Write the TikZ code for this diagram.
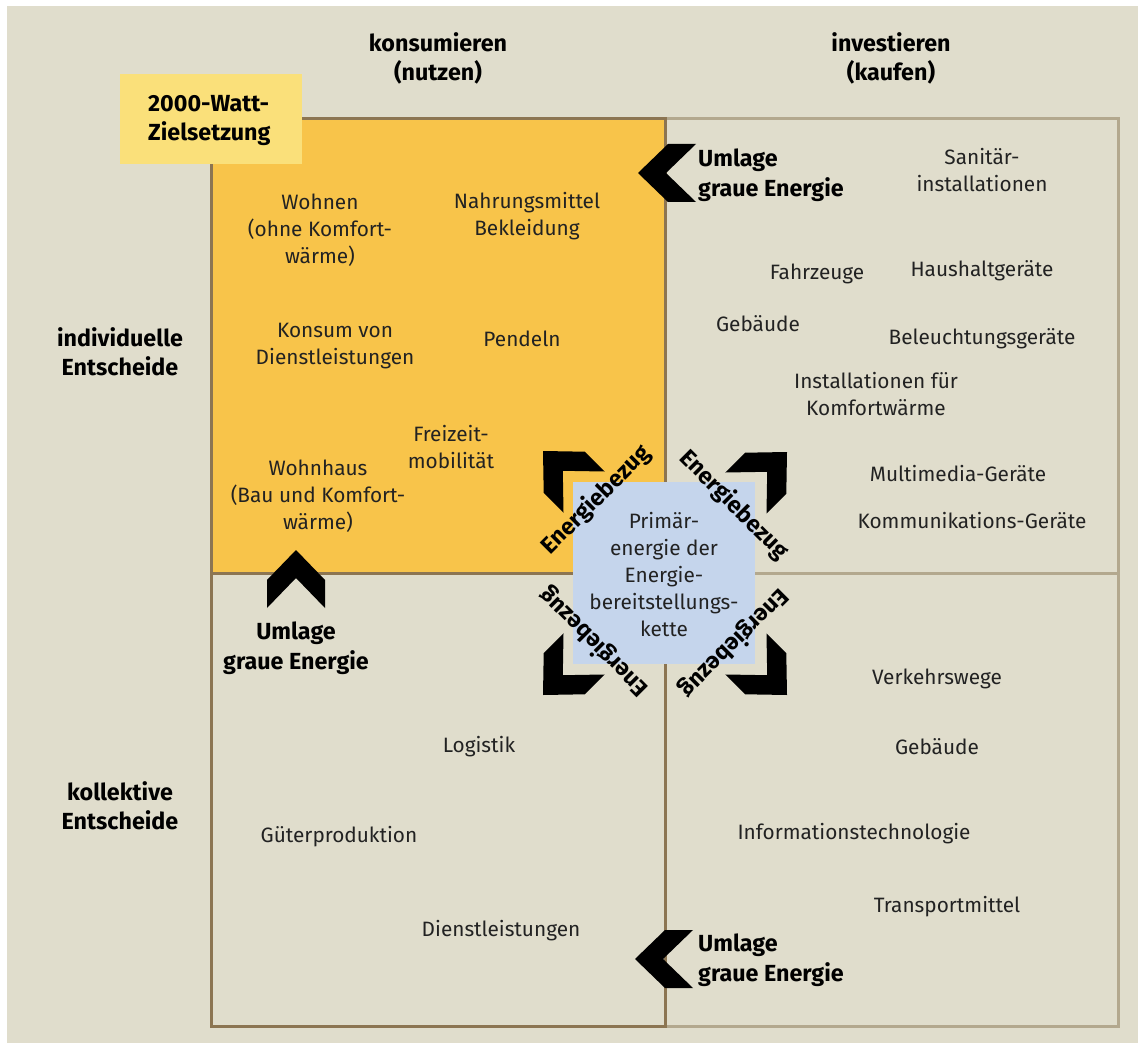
\documentclass[tikz,border=0pt]{standalone}
\usepackage{fontspec}
\setmainfont{Fira Sans}
\begin{document}
\definecolor{bgbeige}{HTML}{E0DDCC}
\definecolor{quadorange}{HTML}{F8C44A}
\definecolor{goalyellow}{HTML}{FAE07A}
\definecolor{sourceblue}{HTML}{C5D5EC}
\definecolor{darkline}{HTML}{8C7552}
\definecolor{lightline}{HTML}{B3A88E}
\definecolor{txt}{HTML}{222222}
\begin{tikzpicture}[x=1pt,y=-1pt,
  lbl/.style={align=center,font=\fontsize{20.8}{27}\selectfont,text=txt,inner sep=0pt},
  head/.style={align=center,font=\fontsize{23.3}{29}\selectfont\bfseries,text=black,inner sep=0pt},
  flow/.style={font=\fontsize{23.3}{29.5}\selectfont\bfseries,text=black,inner sep=0pt},
  chev/.pic={\fill[black] (0,0) -- (29,30) -- (29,58) -- (0,28) -- (-29,58) -- (-29,30) -- cycle;}]
  % canvas
  \useasboundingbox (0,0) rectangle (1138,1043);
  \fill[white] (0,0) rectangle (1138,1043);
  \fill[bgbeige] (7,6) rectangle (1138,1043);
  % quadrants
  \fill[quadorange] (211,119) rectangle (665,573);
  \draw[lightline,line width=3pt] (665,119) rectangle (1118,1026);
  \draw[lightline,line width=3pt] (665,573) -- (1118,573);
  \draw[darkline,line width=3pt] (211,119) rectangle (665,1026);
  \draw[darkline,line width=3pt] (211,573) -- (665,573);
  % goal label
  \fill[goalyellow] (120,74) rectangle (302,164);
  \node[head,align=left,anchor=west] (goal) at (148,121) {2000-Watt-\\Zielsetzung};
  % column and row headings
  \node[head] (konsum) at (438,58) {konsumieren\\(nutzen)};
  \node[head] (invest) at (891,58) {investieren\\(kaufen)};
  \node[head] (indiv) at (120,352) {individuelle\\Entscheide};
  \node[head] (kollekt) at (120,806) {kollektive\\Entscheide};
  % individual consumption
  \node[lbl] (wohnen) at (320,230) {Wohnen\\(ohne Komfort-\\wärme)};
  \node[lbl] (nahrung) at (527,216) {Nahrungsmittel\\Bekleidung};
  \node[lbl] (dienst1) at (335,346) {Konsum von\\Dienstleistungen};
  \node[lbl] (pendeln) at (522,339) {Pendeln};
  \node[lbl] (freizeit) at (451,447) {Freizeit-\\mobilität};
  \node[lbl] (wohnhaus) at (318,496) {Wohnhaus\\(Bau und Komfort-\\wärme)};
  % individual investment
  \node[lbl] (sanitaer) at (982,170) {Sanitär-\\installationen};
  \node[lbl] (fahrzeuge) at (817,274) {Fahrzeuge};
  \node[lbl] (haushalt) at (982,271) {Haushaltgeräte};
  \node[lbl] (gebaeude1) at (758,324) {Gebäude};
  \node[lbl] (beleucht) at (982,339) {Beleuchtungsgeräte};
  \node[lbl] (install) at (876,394) {Installationen für\\Komfortwärme};
  \node[lbl] (multimedia) at (958,474) {Multimedia-Geräte};
  \node[lbl] (kommunik) at (972,521) {Kommunikations-Geräte};
  % collective consumption
  \node[lbl] (logistik) at (479,747) {Logistik};
  \node[lbl] (gueter) at (339,837) {Güterproduktion};
  \node[lbl] (dienst2) at (501,931) {Dienstleistungen};
  % collective investment
  \node[lbl] (verkehr) at (937,679) {Verkehrswege};
  \node[lbl] (gebaeude2) at (937,747) {Gebäude};
  \node[lbl] (infotech) at (854,834) {Informationstechnologie};
  \node[lbl] (transport) at (947,907) {Transportmittel};
  % primary energy source
  \fill[sourceblue] (573,482) rectangle (755,664);
  \node[lbl] (primaer) at (664,575) {Primär-\\energie der\\Energie-\\bereitstellungs-\\kette};
  % energy supply chevrons
  \pic at (543,451) [rotate=45] {chev};
  \pic at (787,452) [rotate=-45] {chev};
  \pic at (543,695) [rotate=135] {chev};
  \pic at (787,695) [rotate=-135] {chev};
  \node[flow,rotate=45] (bezugA) at (596,500) {Energiebezug};
  \node[flow,rotate=-45] (bezugB) at (734,505) {Energiebezug};
  \node[flow,rotate=135] (bezugC) at (594,642) {Energiebezug};
  \node[flow,rotate=-135] (bezugD) at (734,643) {Energiebezug};
  % grey energy allocation
  \pic at (638,173) [rotate=90] {chev};
  \pic at (635,959) [rotate=90] {chev};
  \pic at (296,550) {chev};
  \node[flow,align=left,anchor=west] (umlageA) at (698,175) {Umlage\\graue Energie};
  \node[flow,align=left,anchor=west] (umlageB) at (698,960) {Umlage\\graue Energie};
  \node[flow,align=center] (umlageC) at (296,648) {Umlage\\graue Energie};
\end{tikzpicture}
\end{document}
